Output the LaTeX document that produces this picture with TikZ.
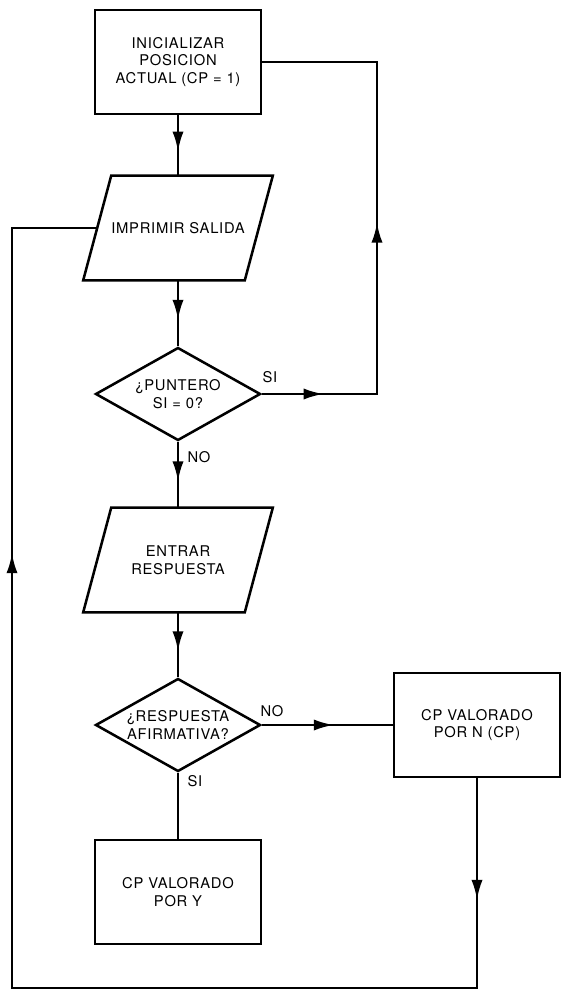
\documentclass[tikz,border=0pt]{standalone}
\usepackage{fontspec}
\setmainfont{TeX Gyre Heros}[LetterSpace=5]
\usetikzlibrary{shapes.geometric, arrows.meta, decorations.markings}

\tikzset{
    caja/.style={draw, rectangle, minimum width=4.15cm, minimum height=2.6cm, align=center, inner sep=0pt},
    datos/.style={rectangle, minimum width=4.025cm, minimum height=2.6cm, align=center, inner sep=0pt},
    decision/.style={draw, diamond, aspect=1.8, minimum width=4.125cm, minimum height=2.325cm, align=center, inner sep=0pt},
    flecha/.style={postaction={decorate, decoration={markings,
        mark=at position #1 with {\arrow{Latex[length=5mm, width=2.8mm]}}}}},
    linea/.style={line width=1.8pt, line join=miter},
    etiqueta/.style={inner sep=0pt},
}

\begin{document}
\begin{tikzpicture}[x=0.025cm, y=-0.025cm, font=\fontsize{10.5}{12.5}\selectfont]

    \useasboundingbox (0,0) rectangle (560,990);

    % bloques
    \node[caja, linea] (ini) at (178,62) {INICIALIZAR\\POSICION\\ACTUAL (CP = 1)};
    \node[datos] (sal) at (178,228) {IMPRIMIR SALIDA};
    \node[decision, linea] (punt) at (178,394) {¿PUNTERO\\SI = 0?};
    \node[datos] (ent) at (178,560) {ENTRAR\\RESPUESTA};
    \node[decision, linea] (resp) at (178,725) {¿RESPUESTA\\AFIRMATIVA?};
    \node[caja, linea] (porN) at (477,725) {CP VALORADO\\POR N (CP)};
    \node[caja, linea] (porY) at (178,892) {CP VALORADO\\POR Y};

    % contorno de las entradas/salidas
    \foreach \p in {sal, ent} {
        \draw[linea] ([xshift=0.35cm]\p.north west) -- ([xshift=0.35cm]\p.north east)
            -- ([xshift=-0.35cm]\p.south east) -- ([xshift=-0.35cm]\p.south west) -- cycle;
    }

    \coordinate (esqA) at (377,62);
    \coordinate (esqB) at (12,988);

    % flujo principal
    \draw[linea, flecha=0.6] (ini) -- (sal);
    \draw[linea, flecha=0.6] (sal) -- (punt);
    \draw[linea, flecha=0.6] (punt) -- (ent);
    \draw[linea, flecha=0.6] (ent) -- (resp);
    \draw[linea, flecha=0.55] (resp) -- (porN);
    \draw[linea] (resp) -- (porY);

    % lazos de vuelta
    \draw[linea, flecha=0.11, flecha=0.51] (punt.east) -| (esqA) -- (ini.east);
    \draw[linea, flecha=0.08, flecha=0.73] (porN) |- (esqB) |- (sal.west);

    % etiquetas
    \node[etiqueta] (si1) at (270,377) {SI};
    \node[etiqueta] (no1) at (199,457) {NO};
    \node[etiqueta] (no2) at (272,711) {NO};
    \node[etiqueta] (si2) at (195,781) {SI};

\end{tikzpicture}
\end{document}
